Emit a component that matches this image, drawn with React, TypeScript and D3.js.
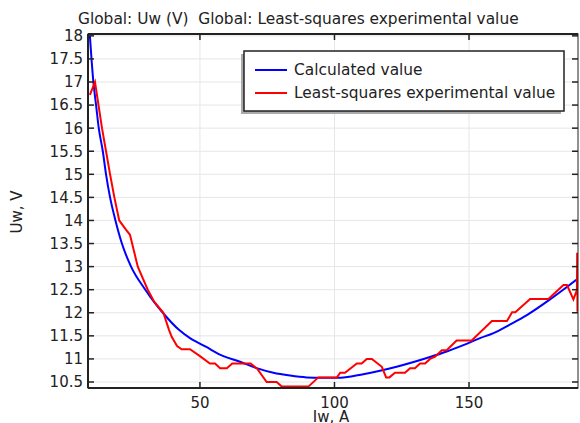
import React from "react";
import { scaleLinear, line, curveMonotoneX } from "d3";

// calculated value (blue)
const calcI = [9.1, 10.4, 11.4, 12.4, 13.9, 15.1, 16.6, 18.6, 21.0, 24.4, 29.7, 33, 36.2, 42.2, 46.3, 52, 58.7, 64.9, 71.1, 77.3, 83.5, 89.7, 95, 101, 110.7, 123.1, 135.5, 141.7, 147.9, 154.1, 159.1, 165, 171.5, 180.1, 185, 190.4];
const calcU = [18.0, 17.0, 16.5, 16.0, 15.5, 15.0, 14.5, 14.0, 13.5, 13.0, 12.5, 12.23, 12.0, 11.63, 11.45, 11.27, 11.06, 10.94, 10.8, 10.7, 10.64, 10.6, 10.59, 10.59, 10.67, 10.83, 11.04, 11.16, 11.3, 11.45, 11.56, 11.74, 11.95, 12.29, 12.5, 12.74];

// least-squares experimental value (red)
const expI = [9.1, 11.0, 13.6, 15.1, 16.6, 18.2, 20.0, 22.5, 24.0, 26.9, 30.6, 33.0, 36.4, 38.5, 39.5, 41.5, 43.2, 46.3, 50.0, 53.7, 55.6, 57.5, 60.0, 62.0, 68.8, 71.4, 74.8, 78.5, 80.4, 90.3, 94.0, 100.9, 102.1, 103.9, 108.3, 110.1, 112.0, 113.9, 117.6, 119.2, 120.4, 122.5, 126.2, 128.1, 129.9, 131.8, 133.7, 135.5, 137.4, 139.9, 141.7, 145.4, 151.0, 158.5, 164.1, 166.0, 167.2, 172.7, 179.5, 185.1, 186.4, 188.8, 190.1, 190.2, 190.3];
const expU = [16.72, 17.0, 16.0, 15.5, 15.0, 14.5, 14.0, 13.8, 13.69, 13.0, 12.5, 12.24, 12.0, 11.63, 11.48, 11.28, 11.21, 11.21, 11.06, 10.9, 10.9, 10.8, 10.8, 10.9, 10.9, 10.78, 10.5, 10.5, 10.4, 10.4, 10.6, 10.6, 10.7, 10.7, 10.9, 10.9, 11.0, 11.0, 10.83, 10.6, 10.6, 10.7, 10.7, 10.8, 10.8, 10.9, 10.9, 11.0, 11.05, 11.19, 11.19, 11.4, 11.4, 11.82, 11.82, 12.01, 12.01, 12.3, 12.3, 12.6, 12.6, 12.29, 12.49, 13.3, 12.02];

const xTicks = [50, 100, 150];
const yTicks = [10.5, 11, 11.5, 12, 12.5, 13, 13.5, 14, 14.5, 15, 15.5, 16, 16.5, 17, 17.5, 18];

const title = "Global: Uw (V)  Global: Least-squares experimental value";
const seriesNames = ["Calculated value", "Least-squares experimental value"];
const seriesColors = ["#0000ff", "#ff0000"];

const App = () => {
    const width = 580
    const height = 423
    const margin = { top: 34, right: 2, bottom: 35, left: 88 }
    const innerWidth = width - margin.left - margin.right
    const innerHeight = height - margin.top - margin.bottom
    const font = "DejaVu Sans, sans-serif"

    const xScale = scaleLinear().domain([8.4, 190.5]).range([0, innerWidth])
    const yScale = scaleLinear().domain([10.37, 18.04]).range([innerHeight, 0])

    const calcData = calcI.map((d, i) => [d, calcU[i]])
    const expData = expI.map((d, i) => [d, expU[i]])

    const calcLine = line().x(d => xScale(d[0])).y(d => yScale(d[1])).curve(curveMonotoneX)
    const expLine = line().x(d => xScale(d[0])).y(d => yScale(d[1]))

    const frame = "#222"

    return (
        <svg width={width} height={height} style={{ position: "absolute", left: 0, top: 0, fontFamily: font }}>
            <rect width={width} height={height} fill="white" />
            <text x={78} y={24} fontSize={15.4} fill="#222" style={{ whiteSpace: "pre" }}>{title}</text>
            <defs>
                <clipPath id="plot">
                    <rect width={innerWidth} height={innerHeight} />
                </clipPath>
            </defs>
            <g transform={`translate(${margin.left}, ${margin.top})`}>
                {/* grid */}
                {xTicks.map((t, i) => (
                    <line key={"gx" + i} x1={xScale(t)} x2={xScale(t)} y1={0} y2={innerHeight} stroke="#e6e6e6" />
                ))}
                {yTicks.map((t, i) => (
                    <line key={"gy" + i} x1={0} x2={innerWidth} y1={yScale(t)} y2={yScale(t)} stroke="#e6e6e6" />
                ))}

                {/* series */}
                <g clipPath="url(#plot)">
                    <path d={calcLine(calcData)} fill="none" stroke={seriesColors[0]} strokeWidth={2} />
                    <path d={expLine(expData)} fill="none" stroke={seriesColors[1]} strokeWidth={2} />
                </g>

                {/* frame */}
                <rect width={innerWidth} height={innerHeight} fill="none" stroke={frame} strokeWidth={1} />
                <line x1={0} x2={0} y1={0} y2={innerHeight} stroke={frame} strokeWidth={2} />
                <line x1={0} x2={innerWidth} y1={innerHeight} y2={innerHeight} stroke={frame} strokeWidth={2} />
                <line x1={0} x2={innerWidth} y1={0} y2={0} stroke={frame} strokeWidth={2} />

                {/* ticks */}
                {xTicks.map((t, i) => (
                    <g key={"tx" + i} transform={`translate(${xScale(t)}, 0)`}>
                        <line y1={innerHeight} y2={innerHeight - 6} stroke={frame} strokeWidth={1.5} />
                        <line y1={0} y2={6} stroke={frame} strokeWidth={1.5} />
                        <text y={innerHeight + 20} textAnchor="middle" fontSize={15} fill="#222">{t}</text>
                    </g>
                ))}
                {yTicks.map((t, i) => (
                    <g key={"ty" + i} transform={`translate(0, ${yScale(t)})`}>
                        <line x1={0} x2={6} stroke={frame} strokeWidth={1.5} />
                        <line x1={innerWidth} x2={innerWidth - 6} stroke={frame} strokeWidth={1.5} />
                        <text x={-5} dy="0.36em" textAnchor="end" fontSize={15} fill="#222">{t}</text>
                    </g>
                ))}

                {/* legend */}
                <g transform="translate(156, 17)">
                    <rect x={-3} y={3} width={320} height={60} fill="#aaa" />
                    <rect width={320} height={60} fill="white" stroke={frame} strokeWidth={1.5} />
                    {seriesNames.map((name, i) => (
                        <g key={"lg" + i} transform={`translate(0, ${19 + i * 23})`}>
                            <line x1={11} x2={43} stroke={seriesColors[i]} strokeWidth={2} />
                            <text x={50} dy="0.35em" fontSize={15.4} fill="#222">{name}</text>
                        </g>
                    ))}
                </g>
            </g>
            <text x={margin.left + innerWidth / 2 - 2} y={422} textAnchor="middle" fontSize={15} fill="#222">Iw, A</text>
            <text transform={`translate(22, 212) rotate(-90)`} textAnchor="middle" fontSize={15} fill="#222">Uw, V</text>
        </svg>
    )
}

export default App
